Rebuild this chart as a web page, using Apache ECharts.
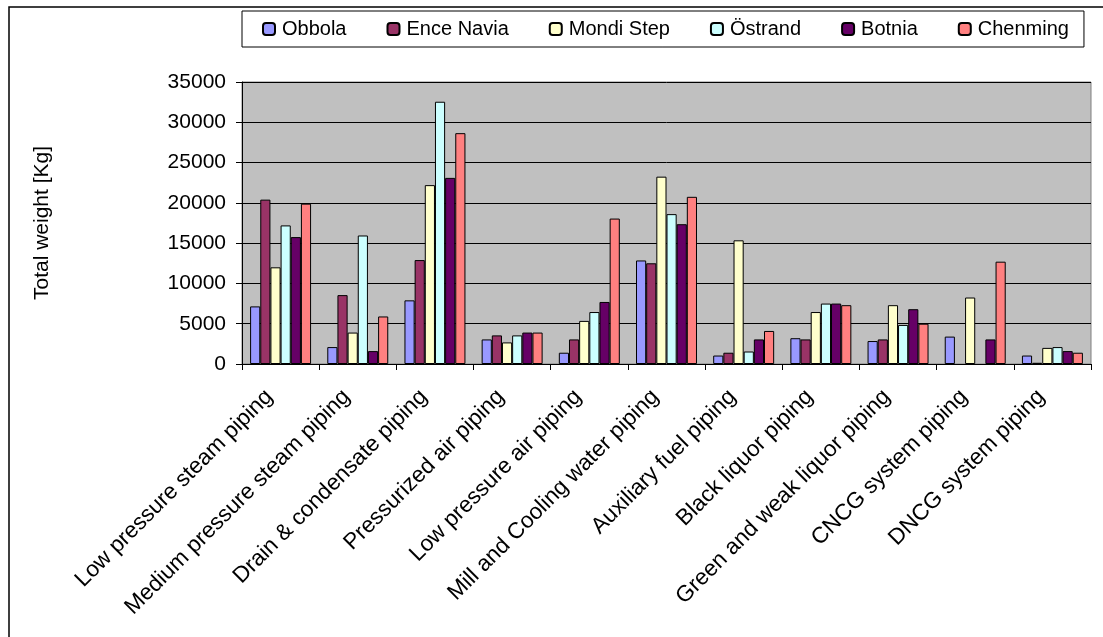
<!DOCTYPE html>
<html>
<head>
<meta charset="utf-8">
<title>Total weight of piping per mill</title>
<script src="https://cdn.jsdelivr.net/npm/echarts@6/dist/echarts.min.js"></script>
<style>
  html, body { margin: 0; padding: 0; background: #ffffff; }
  #chart { width: 1103px; height: 637px; }
</style>
</head>
<body>
<div id="chart"></div>
<script>
// Piping systems (x categories)
const categories = [
  'Low pressure steam piping',
  'Medium pressure steam piping',
  'Drain & condensate piping',
  'Pressurized air piping',
  'Low pressure air piping',
  'Mill and Cooling water piping',
  'Auxiliary fuel piping',
  'Black liquor piping',
  'Green and weak liquor piping',
  'CNCG system piping',
  'DNCG system piping'
];

// Total weight [Kg] per mill, one value per piping system
const obbola    = [7150, 2100, 7900, 3050, 1400, 12850, 1050, 3200, 2850, 3400, 1050];
const enceNavia = [20400, 8550, 12900, 3550, 3050, 12500, 1400, 3050, 3050, null, 150];
const mondiStep = [12000, 3900, 22200, 2680, 5350, 23250, 15350, 6450, 7300, 8250, 2000];
const ostrand   = [17200, 15950, 32550, 3550, 6450, 18600, 1550, 7500, 4850, null, 2100];
const botnia    = [15750, 1600, 23100, 3900, 7700, 17350, 3050, 7500, 6800, 3050, 1600];
const chenming  = [19900, 5900, 28650, 3900, 18050, 20750, 4100, 7300, 5000, 12700, 1400];

const seriesNames = ['Obbola', 'Ence Navia', 'Mondi Step', 'Östrand', 'Botnia', 'Chenming'];
const seriesData = [obbola, enceNavia, mondiStep, ostrand, botnia, chenming];
const seriesColors = ['#9999FF', '#993366', '#FFFFCC', '#CCFFFF', '#660066', '#FF8080'];

// Value axis ticks
const yMin = 0, yMax = 35000, yStep = 5000;

const FONT = "'Liberation Sans', Arial, sans-serif";

const chart = echarts.init(document.getElementById('chart'), null, { renderer: 'canvas' });

chart.setOption({
  animation: false,
  backgroundColor: '#ffffff',
  textStyle: { fontFamily: FONT, color: '#000' },
  graphic: [{
    type: 'rect',
    silent: true,
    shape: { x: 9, y: 7, width: 1200, height: 700 },
    style: { fill: 'none', stroke: '#000', lineWidth: 1.5 },
    z: 100
  }],
  legend: {
    left: 242,
    top: 11,
    orient: 'horizontal',
    data: seriesNames,
    itemWidth: 12,
    itemHeight: 12,
    itemGap: 40,
    padding: [8, 15, 8, 20],
    borderColor: '#000',
    borderWidth: 1,
    backgroundColor: '#fff',
    textStyle: { fontFamily: FONT, fontSize: 20, color: '#000', padding: [0, 0, 0, 2] }
  },
  grid: {
    left: 242,
    right: 12,
    top: 82,
    bottom: 273,
    show: true,
    backgroundColor: '#c0c0c0',
    borderColor: '#808080',
    borderWidth: 1
  },
  xAxis: {
    type: 'category',
    data: categories,
    axisLine: { show: true, lineStyle: { color: '#000', width: 1 } },
    axisTick: { show: true, length: 6, lineStyle: { color: '#000' } },
    axisLabel: {
      interval: 0,
      rotate: 45,
      margin: 18,
      padding: [0, 16, 0, 0],
      fontFamily: FONT,
      fontSize: 22.5,
      color: '#000'
    }
  },
  yAxis: {
    type: 'value',
    min: yMin,
    max: yMax,
    interval: yStep,
    name: 'Total weight [Kg]',
    nameLocation: 'middle',
    nameGap: 189,
    nameRotate: 90,
    nameTextStyle: { fontFamily: FONT, fontSize: 21, color: '#000' },
    axisLine: { show: true, lineStyle: { color: '#000', width: 1 } },
    axisTick: { show: true, length: 6, lineStyle: { color: '#000' } },
    axisLabel: {
      margin: 16,
      fontFamily: FONT,
      fontSize: 21,
      color: '#000',
      formatter: (v) => String(v)
    },
    splitLine: { show: true, lineStyle: { color: '#000', width: 1 } }
  },
  series: seriesNames.map((name, i) => ({
    name: name,
    type: 'bar',
    data: seriesData[i],
    barGap: '0%',
    barCategoryGap: '21%',
    itemStyle: {
      color: seriesColors[i],
      borderColor: '#000',
      borderWidth: 1
    }
  }))
});
</script>
</body>
</html>
